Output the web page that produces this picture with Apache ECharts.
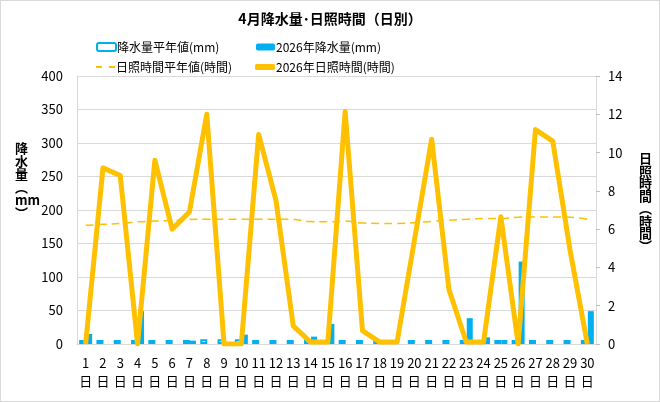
<!DOCTYPE html>
<html>
<head>
<meta charset="utf-8">
<script src="https://cdn.jsdelivr.net/npm/echarts@6/dist/echarts.min.js"></script>
<style>
  html, body { margin: 0; padding: 0; background: #fff; }
  #main { width: 660px; height: 402px; box-sizing: border-box; border: 1px solid #d9d9d9; }
</style>
</head>
<body>
<div id="main"></div>
<script>
// 日付 (1日〜30日)
var days = [];
for (var d = 1; d <= 30; d++) { days.push(d + '\n日'); }

// 降水量平年値 (mm)
var rainNormal = [6, 6, 6, 6, 6, 6, 6, 7, 7, 7, 6, 6, 6, 6, 6, 6, 6, 6, 6, 6, 6, 6, 6, 6, 6, 6, 6, 6, 6, 6];
// 2026年降水量 (mm)
var rain2026 = [15, 0, 0, 49, 0, 0, 5, 0, 0, 14, 0, 0, 0, 11, 30, 0, 0, 0, 0, 0, 0, 0, 38.5, 10, 6, 123, 0, 0, 0, 49];
// 日照時間平年値 (時間)
var sunNormal = [6.2, 6.25, 6.3, 6.38, 6.42, 6.45, 6.5, 6.52, 6.52, 6.52, 6.52, 6.52, 6.5, 6.4, 6.38,
                 6.42, 6.32, 6.3, 6.3, 6.33, 6.4, 6.47, 6.52, 6.56, 6.56, 6.62, 6.64, 6.64, 6.62, 6.52];
// 2026年日照時間 (時間)
var sun2026 = [0, 9.2, 8.8, 0, 9.6, 6.0, 6.9, 12.0, 0, 0, 10.95, 7.5, 0.95, 0.1, 0.1,
               12.15, 0.7, 0.1, 0.1, 5.4, 10.7, 2.85, 0.1, 0.1, 6.65, 0, 11.2, 10.6, 4.9, 0];

var font = '"Noto Sans CJK JP", "Noto Sans", sans-serif';
var blue = '#00B0F0', orange = '#FFC000', gridGray = '#d9d9d9';
var legendText = {fontSize: 12, color: '#000', padding: [0, 0, 0, -4]};

var chart = echarts.init(document.getElementById('main'));
chart.setOption({
    animation: false,
    textStyle: {fontFamily: font},
    title: {
        text: '4月降水量･日照時間（日別）', left: 'center', top: 6,
        textStyle: {fontSize: 14, fontWeight: 'bold', color: '#000', fontFamily: font}
    },
    legend: [
        {left: 90, top: 35, itemWidth: 19, itemHeight: 8, data: ['降水量平年値(mm)'], textStyle: legendText},
        {left: 250, top: 35, itemWidth: 19, itemHeight: 7, data: ['2026年降水量(mm)'], textStyle: legendText},
        {left: 90, top: 55, itemWidth: 19, itemHeight: 2, textStyle: legendText,
            data: [{name: '日照時間平年値(時間)', icon: 'path://M0,0 h6 v2 h-6 Z M13,0 h6 v2 h-6 Z'}]},
        {left: 249, top: 55, itemWidth: 20, itemHeight: 6, textStyle: legendText,
            data: [{name: '2026年日照時間(時間)', icon: 'roundRect'}]}
    ],
    grid: {left: 76, right: 63, top: 75, bottom: 57},
    xAxis: {
        type: 'category', data: days,
        axisLine: {lineStyle: {color: gridGray}},
        axisTick: {show: false},
        axisLabel: {color: '#000', fontSize: 13, lineHeight: 18, margin: 10, interval: 0}
    },
    yAxis: [
        {
            type: 'value', min: 0, max: 400, interval: 50,
            axisLine: {show: true, lineStyle: {color: gridGray}},
            axisTick: {show: false},
            splitLine: {lineStyle: {color: gridGray, width: 1}},
            axisLabel: {color: '#000', fontSize: 13, margin: 14}
        },
        {
            type: 'value', min: 0, max: 14, interval: 2,
            axisLine: {show: true, lineStyle: {color: gridGray}},
            axisTick: {show: true, length: 4, lineStyle: {color: '#bfbfbf'}},
            splitLine: {show: false},
            axisLabel: {color: '#000', fontSize: 13, margin: 12}
        }
    ],
    graphic: [
        {type: 'text', left: 14, top: 141,
            style: {text: '降\n水\n量\n︵\nmm\n︶', lineHeight: 13,
                fill: '#000', align: 'center', font: 'bold 13px ' + font}},
        {type: 'text', left: 638, top: 151,
            style: {text: '日\n照\n時\n間\n︵\n時\n間\n︶', lineHeight: 12.5,
                fill: '#000', align: 'center', font: 'bold 13px ' + font}}
    ],
    series: [
        {
            name: '降水量平年値(mm)', type: 'bar', data: rainNormal,
            barWidth: 7, barGap: '0%',
            itemStyle: {color: '#fff', borderColor: blue, borderWidth: 2}
        },
        {
            name: '2026年降水量(mm)', type: 'bar', data: rain2026,
            barWidth: 6, barGap: '0%',
            itemStyle: {color: blue}
        },
        {
            name: '日照時間平年値(時間)', type: 'line', yAxisIndex: 1, data: sunNormal,
            symbol: 'none', smooth: true,
            itemStyle: {color: orange},
            lineStyle: {color: orange, width: 1.5, type: [8, 5]}
        },
        {
            name: '2026年日照時間(時間)', type: 'line', yAxisIndex: 1, data: sun2026,
            symbol: 'none',
            itemStyle: {color: orange},
            lineStyle: {color: orange, width: 5, join: 'round'}
        }
    ]
});
</script>
</body>
</html>
